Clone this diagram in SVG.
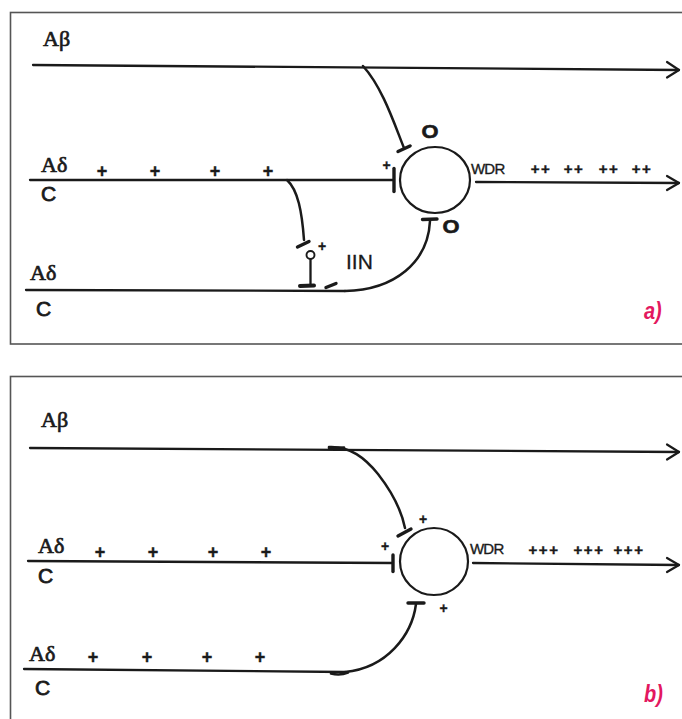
<svg xmlns="http://www.w3.org/2000/svg" width="682" height="719" viewBox="0 0 682 719">
<style>
.frame{fill:none;stroke:#555;stroke-width:1.6}
.ln{fill:none;stroke:#1a1a1a;stroke-width:2.3;stroke-linecap:round}
.cv{fill:none;stroke:#1a1a1a;stroke-width:2.5;stroke-linecap:round}
.bar{fill:none;stroke:#1a1a1a;stroke-width:3.4;stroke-linecap:round}
.arr{fill:none;stroke:#1a1a1a;stroke-width:2.2;stroke-linecap:round;stroke-linejoin:round}
.cell{fill:#fff;stroke:#1a1a1a;stroke-width:2.2}
.ser{font-family:"Liberation Serif","Times New Roman",serif;font-size:22px;fill:#1a1a1a;stroke:#1a1a1a;stroke-width:0.7}
.san{font-family:"Liberation Sans",Arial,sans-serif;font-size:21px;fill:#1a1a1a;stroke:#1a1a1a;stroke-width:0.8}
.pl{font-family:"Liberation Sans",Arial,sans-serif;font-weight:bold;font-size:18px;fill:#1a1a1a;stroke:#1a1a1a;stroke-width:0.4;text-anchor:middle}
.pls{font-family:"Liberation Sans",Arial,sans-serif;font-weight:bold;font-size:14px;fill:#1a1a1a;stroke:#1a1a1a;stroke-width:0.3;text-anchor:middle}
.pp{font-family:"Liberation Sans",Arial,sans-serif;font-weight:bold;font-size:15px;letter-spacing:1.5px;fill:#1a1a1a;stroke:#1a1a1a;stroke-width:0.4;text-anchor:middle}
.wdr{font-family:"Liberation Sans",Arial,sans-serif;font-size:15px;letter-spacing:-0.8px;fill:#1a1a1a;stroke:#1a1a1a;stroke-width:0.35}
.oo{font-family:"Liberation Sans",Arial,sans-serif;font-weight:bold;font-size:19px;fill:#1a1a1a;stroke:#1a1a1a;stroke-width:0.6;text-anchor:middle}
.tag{font-family:"Liberation Sans",Arial,sans-serif;font-weight:bold;font-style:italic;font-size:20px;fill:#e3185f}
</style>

<!-- frames -->
<rect class="frame" x="10.5" y="12.5" width="700" height="331.5"/>
<rect class="frame" x="10.5" y="376.5" width="700" height="400"/>

<!-- ===== Panel a ===== -->
<g id="connectors-a">
  <path class="ln" d="M33,65 L679,70"/>
  <polyline class="arr" points="667,62 679,70 667,77.5"/>
  <path class="cv" d="M363,66 C383,88 395,126 404,148"/>
  <path class="bar" d="M398,151.5 L410,146"/>
  <path class="ln" d="M30,180 L394,180"/>
  <path class="bar" d="M394,168.5 L394,191.5"/>
  <path class="ln" d="M476,182 L679,183"/>
  <polyline class="arr" points="667,176 679,183 667,190"/>
  <path class="cv" d="M287,180 C298,190 302,212 304,240"/>
  <path class="bar" d="M297.5,247 L309,241.5"/>
  <path class="ln" d="M310.5,259 L310.5,284"/>
  <path class="bar" d="M300,286 L314,285.5" style="stroke-width:4"/>
  <path class="bar" d="M326,287.5 L336,283.5"/>
  <path class="ln" d="M26,290 L345,291"/>
  <path class="cv" d="M345,291 C395,290 428,262 430,221"/>
  <path class="bar" d="M422.5,219.5 L437,219"/>
</g>
<g id="a-abeta"><text class="ser" x="43" y="46">Aβ</text></g>
<g id="a-adc1">
  <text class="ser" x="41" y="172">Aδ</text>
  <text class="san" x="41" y="201">C</text>
  <text class="pl" x="102" y="177">+</text>
  <text class="pl" x="155" y="177">+</text>
  <text class="pl" x="215" y="177">+</text>
  <text class="pl" x="268" y="177">+</text>
</g>
<g id="a-adc2">
  <text class="ser" x="30" y="280">Aδ</text>
  <text class="san" x="36" y="316">C</text>
</g>
<g id="a-wdr">
  <ellipse class="cell" cx="435" cy="180" rx="35" ry="33"/>
  <text class="wdr" x="471" y="173.5">WDR</text>
  <text class="pp" x="541" y="173.5">++</text>
  <text class="pp" x="574" y="173.5">++</text>
  <text class="pp" x="609" y="173.5">++</text>
  <text class="pp" x="642" y="173.5">++</text>
  <text class="pls" x="386.5" y="170">+</text>
  <text class="oo" x="430" y="138.5" transform="translate(430,0) scale(1.15,1) translate(-430,0)">O</text>
  <text class="oo" x="451" y="233.5" transform="translate(451,0) scale(1.15,1) translate(-451,0)">O</text>
</g>
<g id="a-iin">
  <circle cx="310.5" cy="255" r="4" fill="#fff" stroke="#1a1a1a" stroke-width="1.9"/>
  <text class="pls" x="322" y="250.5">+</text>
  <text class="san" x="346" y="268.5" style="stroke-width:0.3">IIN</text>
</g>
<g id="a-tag"><text class="tag" transform="translate(644,319) scale(1,1.15)">a)</text></g>

<!-- ===== Panel b ===== -->
<g id="connectors-b">
  <path class="ln" d="M30,448 L679,452"/>
  <polyline class="arr" points="667,444.5 679,452 667,459.5"/>
  <path class="cv" d="M329,447 C350,446 365,458 378,474 C392,492 401,508 405,528"/>
  <path class="bar" d="M329,448 L344,447.5" style="stroke-width:2.6"/>
  <path class="bar" d="M398,536 L411,529"/>
  <path class="ln" d="M28,561 L393,563"/>
  <path class="bar" d="M393,555 L393,571.5"/>
  <path class="ln" d="M473,563 L679,565"/>
  <polyline class="arr" points="667,558 679,565 667,572"/>
  <path class="ln" d="M24,669 L345,672"/>
  <path class="cv" d="M345,672 C387,668 412,635 416,604"/>
  <path class="bar" d="M331,673.5 Q340,676 348,672.5" style="stroke-width:2.6"/>
  <path class="bar" d="M408,603 L424,603"/>
</g>
<g id="b-abeta"><text class="ser" x="41" y="427">Aβ</text></g>
<g id="b-adc1">
  <text class="ser" x="38" y="553">Aδ</text>
  <text class="san" x="38" y="583">C</text>
  <text class="pl" x="100" y="558">+</text>
  <text class="pl" x="153" y="558">+</text>
  <text class="pl" x="213" y="558">+</text>
  <text class="pl" x="266" y="558">+</text>
</g>
<g id="b-adc2">
  <text class="ser" x="29" y="661">Aδ</text>
  <text class="san" x="35" y="695">C</text>
  <text class="pl" x="93" y="663">+</text>
  <text class="pl" x="147" y="663">+</text>
  <text class="pl" x="207" y="663">+</text>
  <text class="pl" x="260" y="663">+</text>
</g>
<g id="b-wdr">
  <ellipse class="cell" cx="434" cy="561.5" rx="34" ry="33.5"/>
  <text class="wdr" x="470" y="553.5">WDR</text>
  <text class="pp" x="544" y="555">+++</text>
  <text class="pp" x="589" y="555">+++</text>
  <text class="pp" x="629" y="555">+++</text>
  <text class="pls" x="385" y="551">+</text>
  <text class="pls" x="423" y="524">+</text>
  <text class="pls" x="443.5" y="613">+</text>
</g>
<g id="b-tag"><text class="tag" transform="translate(644,702) scale(1,1.15)">b)</text></g>
</svg>
